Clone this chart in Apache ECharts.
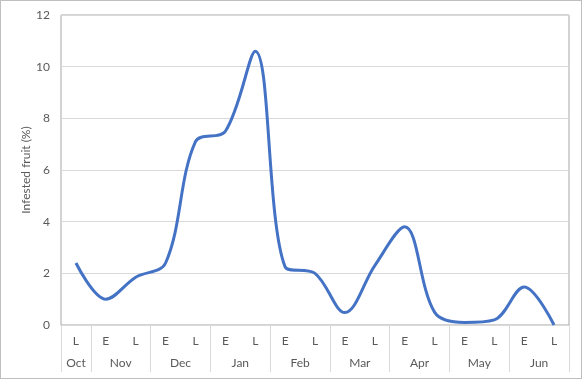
<!DOCTYPE html>
<html>
<head>
<meta charset="utf-8">
<script src="https://cdn.jsdelivr.net/npm/echarts@6/dist/echarts.min.js"></script>
<style>
html,body{margin:0;padding:0;background:#fff;}
#wrap{position:relative;width:583px;height:380px;}
#chart{position:absolute;left:0;top:0;width:583px;height:380px;}
#frame{position:absolute;left:0;top:0;width:580px;height:377px;border:1px solid #bfbfbf;pointer-events:none;}
</style>
</head>
<body>
<div id="wrap"><div id="chart"></div><div id="frame"></div></div>
<script>
// Data
var periods = ['L','E','L','E','L','E','L','E','L','E','L','E','L','E','L','E','L'];
var infested = [2.4, 1.0, 1.85, 2.4, 7.1, 7.5, 10.6, 2.25, 2.0, 0.48, 2.3, 3.8, 0.5, 0.1, 0.2, 1.47, 0.0];
var months = ['Oct','Nov','Dec','Jan','Feb','Mar','Apr','May','Jun'];
var monthSpans = [1,2,2,2,2,2,2,2,2];
var yTicks = [0, 2, 4, 6, 8, 10, 12];

// derived positions for the month level
var boundaries = [0], centers = [], acc = 0;
monthSpans.forEach(function(s){ centers.push(acc + s/2); acc += s; boundaries.push(acc); });

var font = 'Lato, "Liberation Sans", sans-serif';
var chart = echarts.init(document.getElementById('chart'), null, {renderer:'canvas'});
chart.setOption({
  animation:false,
  grid:{left:61, right:14, top:15, bottom:55, show:true, borderColor:'#a6a6a6', borderWidth:1, backgroundColor:'transparent'},
  xAxis:[{
    type:'category', data:periods, boundaryGap:true, position:'bottom',
    axisLine:{show:true, lineStyle:{color:'#d9d9d9', width:1}},
    axisTick:{show:false},
    axisLabel:{color:'#595959', fontSize:12, fontFamily:font, margin:10}
  },{
    type:'value', min:0, max:acc, position:'bottom',
    axisLine:{show:false}, splitLine:{show:false},
    axisTick:{show:true, customValues:boundaries, length:47, lineStyle:{color:'#d9d9d9', width:1}},
    axisLabel:{show:true, customValues:centers, color:'#595959', fontSize:12, fontFamily:font, margin:32,
      formatter:function(v){ var i = centers.indexOf(v); return i>=0 ? months[i] : ''; }}
  }],
  yAxis:{
    type:'value', min:yTicks[0], max:yTicks[yTicks.length-1], interval:2,
    name:'Infested fruit (%)', nameLocation:'middle', nameGap:29, nameRotate:90, nameMoveOverlap:false,
    nameTextStyle:{color:'#595959', fontSize:12, fontFamily:font},
    axisLine:{show:false}, axisTick:{show:false},
    axisLabel:{color:'#595959', fontSize:12, fontFamily:font, margin:11},
    splitLine:{lineStyle:{color:'#d9d9d9', width:1}}
  },
  series:[{
    type:'line', data:infested, xAxisIndex:0, smooth:0.35, symbol:'none',
    lineStyle:{color:'#4472C4', width:3}, z:5
  }]
});
</script>
</body>
</html>
